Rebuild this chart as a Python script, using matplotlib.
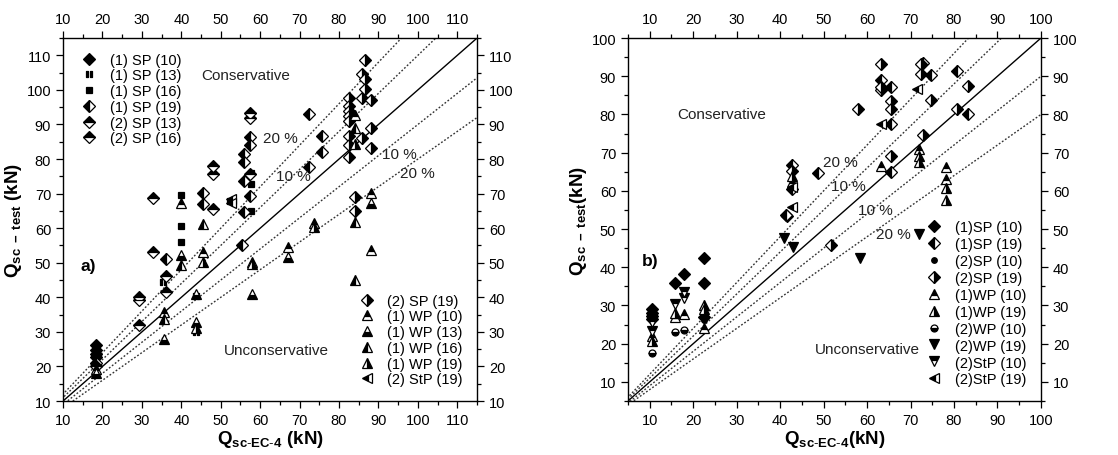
import matplotlib
matplotlib.use("Agg")
import matplotlib.pyplot as plt
import numpy as np
from matplotlib.path import Path
from matplotlib.ticker import MultipleLocator

plt.rcParams['font.family'] = ['Liberation Sans', 'DejaVu Sans']
plt.rcParams['mathtext.fontset'] = 'custom'
plt.rcParams['mathtext.rm'] = 'Liberation Sans'
plt.rcParams['mathtext.bf'] = 'Liberation Sans:bold'
plt.rcParams['mathtext.it'] = 'Liberation Sans:italic'

# ---------------- panel a) data : (Q_sc-EC-4, Q_sc-test) in kN ----------------
a_sp1_10_x = [18.4, 18.4, 18.4, 18.4]
a_sp1_10_y = [26.3, 24.8, 23.6, 22.6]
a_sp1_13_x = [35.3, 43.8, 43.8, 52.3]
a_sp1_13_y = [44.5, 40.3, 30.0, 68.0]
a_sp1_16_x = [40.0, 40.0, 40.0, 57.6, 57.6, 57.6]
a_sp1_16_y = [69.5, 60.5, 56.1, 76.1, 72.8, 64.9]
a_sp1_19_x = [18.4, 36.0, 45.4, 45.4, 55.9, 55.9, 55.9, 55.9, 55.5, 57.4, 57.4,
              57.4, 72.3, 72.5, 75.8, 75.8]
a_sp1_19_y = [21.0, 51.0, 70.3, 67.0, 81.4, 79.0, 73.5, 64.6, 55.1, 86.5, 84.1,
              69.4, 93.0, 77.8, 86.7, 81.9]
a_sp2_13_x = [29.3, 32.9, 36.0, 36.0, 57.4, 57.4, 57.4, 48.0]
a_sp2_13_y = [32.0, 53.0, 46.3, 41.5, 93.4, 91.8, 75.6, 75.6]
a_sp2_16_x = [32.9, 29.3, 29.3, 48.0, 48.0, 18.4]
a_sp2_16_y = [68.7, 40.0, 39.1, 78.0, 65.5, 20.2]
a_sp2_19_x = [82.5, 82.5, 82.5, 82.5, 82.5, 82.5, 82.5, 82.5, 84.0, 84.0, 85.9,
              85.9, 85.9, 86.6, 86.6, 86.6, 88.0, 88.0, 88.0]
a_sp2_19_y = [97.6, 95.4, 93.9, 92.5, 91.0, 86.7, 84.1, 80.5, 68.9, 65.1, 104.5,
              97.6, 86.2, 108.7, 103.1, 100.2, 97.1, 89.1, 83.3]
a_wp1_10_x = [18.4, 35.5, 40.0, 45.4, 57.9, 67.0, 73.6, 84.0, 88.0, 88.0]
a_wp1_10_y = [19.2, 35.7, 67.3, 53.0, 50.1, 54.5, 61.5, 92.7, 70.1, 53.8]
a_wp1_13_x = [18.4, 35.5, 40.0, 43.8, 43.8, 58.0, 67.0, 88.0]
a_wp1_13_y = [18.2, 27.8, 52.1, 41.0, 33.0, 41.0, 51.8, 67.3]
a_wp1_16_x = [35.5, 40.0, 45.4, 84.0, 84.0, 84.0]
a_wp1_16_y = [33.8, 49.2, 61.1, 89.1, 61.9, 45.0]
a_wp1_19_x = [43.8, 45.4, 73.6, 84.0, 57.9]
a_wp1_19_y = [31.0, 50.1, 60.2, 84.3, 49.5]
a_stp2_19_x = [52.5, 52.5]
a_stp2_19_y = [68.5, 67.3]

# ---------------- panel b) data ----------------
b_sp1_10_x = [10.5, 10.5, 10.5, 10.5, 15.8, 18.0, 22.5, 22.5, 22.5, 41.6]
b_sp1_10_y = [29.2, 28.0, 27.2, 26.4, 36.0, 38.2, 42.3, 36.0, 26.9, 53.5]
b_sp1_19_x = [41.3, 42.8, 42.8, 48.6, 63.3, 65.4, 65.4, 65.4, 72.8, 74.6, 80.6, 83.2]
b_sp1_19_y = [53.7, 66.9, 60.5, 64.7, 89.0, 87.2, 77.6, 64.9, 93.5, 90.4, 91.5, 80.2]
b_sp2_10_x = [22.5, 10.5]
b_sp2_10_y = [26.2, 26.8]
b_sp2_19_x = [58.0, 63.3, 63.3, 65.4, 65.4, 65.4, 72.3, 72.3, 74.6, 80.6, 83.2,
              51.6, 42.8, 63.3, 72.8]
b_sp2_19_y = [81.5, 93.1, 86.3, 83.4, 81.5, 69.1, 93.1, 90.7, 83.7, 81.3, 87.4,
              45.9, 65.3, 87.2, 74.5]
b_wp1_10_x = [10.5, 15.8, 18.0, 22.5, 42.8, 72.0, 78.2, 78.2, 63.3]
b_wp1_10_y = [22.1, 26.9, 27.7, 24.2, 62.3, 71.0, 66.2, 63.1, 66.6]
b_wp1_19_x = [10.5, 15.8, 22.5, 22.5, 42.8, 72.0, 72.0, 78.2, 78.2]
b_wp1_19_y = [20.8, 28.0, 30.1, 29.1, 64.0, 69.1, 67.5, 60.7, 57.5]
b_wp2_10_x = [10.5, 15.8, 18.0]
b_wp2_10_y = [17.5, 23.1, 23.5]
b_wp2_19_x = [41.0, 43.0, 58.4, 72.0]
b_wp2_19_y = [47.6, 45.2, 42.3, 48.7]
b_stp2_10_x = [10.5, 10.5, 15.8, 18.0, 18.0]
b_stp2_10_y = [25.6, 23.4, 30.4, 33.4, 32.0]
b_stp2_19_x = [42.8, 42.8, 63.3, 71.5]
b_stp2_19_y = [61.0, 55.7, 77.6, 86.7]

# deviation bands drawn around the 1:1 line
band_factors = [1.2, 1.1, 0.9, 0.8]

# two thin vertical bars used as a marker
_bars = Path([(-0.45, -0.5), (-0.15, -0.5), (-0.15, 0.5), (-0.45, 0.5), (-0.45, -0.5),
              (0.15, -0.5), (0.45, -0.5), (0.45, 0.5), (0.15, 0.5), (0.15, -0.5)],
             [Path.MOVETO, Path.LINETO, Path.LINETO, Path.LINETO, Path.CLOSEPOLY,
              Path.MOVETO, Path.LINETO, Path.LINETO, Path.LINETO, Path.CLOSEPOLY])

fig = plt.figure(figsize=(11.18, 4.56), dpi=100)
axa = fig.add_axes([0.0564, 0.1184, 0.3703, 0.796])
axb = fig.add_axes([0.5617, 0.1184, 0.3694, 0.796])


def style_axis(ax, lo, hi):
    ax.set_xlim(lo, hi)
    ax.set_ylim(lo, hi)
    ax.xaxis.set_major_locator(MultipleLocator(10))
    ax.yaxis.set_major_locator(MultipleLocator(10))
    ax.xaxis.set_minor_locator(MultipleLocator(5))
    ax.yaxis.set_minor_locator(MultipleLocator(5))
    ax.tick_params(which='both', direction='out', top=True, right=True,
                   labeltop=True, labelright=True, labelsize=10.5, width=0.9)
    ax.tick_params(which='major', length=5)
    ax.tick_params(which='minor', length=3)
    for s in ax.spines.values():
        s.set_linewidth(1.0)
    xs = np.array([0, hi])
    ax.plot(xs, xs, color='black', lw=1.0, zorder=2)
    for f in band_factors:
        ax.plot(xs, f * xs, color='#333333', lw=1.0, ls=(0, (1.3, 1.4)), zorder=2)


def draw(ax, x, y, marker, fill='full', ms=7.0, label=None):
    h, = ax.plot(x, y, ls='none', marker=marker, fillstyle=fill, ms=ms,
                 mfc='black', mec='black', mew=0.9, markerfacecoloralt='white',
                 label=label, zorder=3)
    return h


style_axis(axa, 10, 115)
style_axis(axb, 5, 100)

ha = [
    draw(axa, a_sp1_10_x, a_sp1_10_y, 'D', 'full', 6.5, '(1) SP (10)'),
    draw(axa, a_sp1_13_x, a_sp1_13_y, _bars, 'full', 4.5, '(1) SP (13)'),
    draw(axa, a_sp1_16_x, a_sp1_16_y, 's', 'full', 4.5, '(1) SP (16)'),
    draw(axa, a_sp1_19_x, a_sp1_19_y, 'D', 'left', 6.5, '(1) SP (19)'),
    draw(axa, a_sp2_13_x, a_sp2_13_y, 'D', 'top', 6.5, '(2) SP (13)'),
    draw(axa, a_sp2_16_x, a_sp2_16_y, 'D', 'top', 6.5, '(2) SP (16)'),
    draw(axa, a_sp2_19_x, a_sp2_19_y, 'D', 'right', 6.5, '(2) SP (19)'),
    draw(axa, a_wp1_10_x, a_wp1_10_y, '^', 'top', 7.5, '(1) WP (10)'),
    draw(axa, a_wp1_13_x, a_wp1_13_y, '^', 'bottom', 7.5, '(1) WP (13)'),
    draw(axa, a_wp1_16_x, a_wp1_16_y, '^', 'left', 7.5, '(1) WP (16)'),
    draw(axa, a_wp1_19_x, a_wp1_19_y, '^', 'right', 7.5, '(1) WP (19)'),
    draw(axa, a_stp2_19_x, a_stp2_19_y, '<', 'left', 7.5, '(2) StP (19)'),
]

leg_kw = dict(frameon=False, fontsize=10.5, handletextpad=0.6,
              borderaxespad=0.6, handlelength=1.6)
leg1 = axa.legend(handles=ha[:6], loc='upper left', labelspacing=0.12, **leg_kw)
axa.add_artist(leg1)
axa.legend(handles=ha[6:], loc='lower right', labelspacing=0.12, **leg_kw)

hb = [
    draw(axb, b_sp1_10_x, b_sp1_10_y, 'D', 'full', 6.5, '(1)SP (10)'),
    draw(axb, b_sp1_19_x, b_sp1_19_y, 'D', 'left', 6.5, '(1)SP (19)'),
    draw(axb, b_sp2_10_x, b_sp2_10_y, 'o', 'full', 4.0, '(2)SP (10)'),
    draw(axb, b_sp2_19_x, b_sp2_19_y, 'D', 'right', 6.5, '(2)SP (19)'),
    draw(axb, b_wp1_10_x, b_wp1_10_y, '^', 'top', 7.5, '(1)WP (10)'),
    draw(axb, b_wp1_19_x, b_wp1_19_y, '^', 'right', 7.5, '(1)WP (19)'),
    draw(axb, b_wp2_10_x, b_wp2_10_y, 'o', 'bottom', 5.0, '(2)WP (10)'),
    draw(axb, b_wp2_19_x, b_wp2_19_y, 'v', 'full', 7.5, '(2)WP (19)'),
    draw(axb, b_stp2_10_x, b_stp2_10_y, 'v', 'top', 7.5, '(2)StP (10)'),
    draw(axb, b_stp2_19_x, b_stp2_19_y, '<', 'left', 7.5, '(2)StP (19)'),
]
axb.legend(handles=hb, loc='lower right', labelspacing=0.2, **leg_kw)

# annotations
txt = dict(fontsize=11, color='#222222')
axa.text(56.2, 104.2, 'Conservative', ha='center', va='center', **txt)
axa.text(64.2, 24.9, 'Unconservative', ha='center', va='center', **txt)
axa.text(65.0, 86.2, '20 %', ha='center', va='center', **txt)
axa.text(68.3, 75.2, '10 %', ha='center', va='center', **txt)
axa.text(95.2, 81.4, '10 %', ha='center', va='center', **txt)
axa.text(99.8, 76.1, '20 %', ha='center', va='center', **txt)
axa.text(16.4, 49.2, 'a)', ha='center', va='center', fontsize=12.5, fontweight='bold')

axb.text(26.6, 80.0, 'Conservative', ha='center', va='center', **txt)
axb.text(60.0, 18.7, 'Unconservative', ha='center', va='center', **txt)
axb.text(53.9, 67.5, '20 %', ha='center', va='center', **txt)
axb.text(55.8, 61.4, '10 %', ha='center', va='center', **txt)
axb.text(61.9, 55.1, '10 %', ha='center', va='center', **txt)
axb.text(66.1, 48.7, '20 %', ha='center', va='center', **txt)
axb.text(10.2, 41.7, 'b)', ha='center', va='center', fontsize=12.5, fontweight='bold')

axa.set_ylabel(r'$\mathbf{Q}_{\mathbf{sc\ -\ test}}$' + ' (kN)', fontsize=13.5,
               fontweight='bold', labelpad=2)
axb.set_ylabel(r'$\mathbf{Q}_{\mathbf{sc\ -\ test}}$' + '(kN)', fontsize=13.5,
               fontweight='bold', labelpad=2)
axa.set_xlabel(r'$\mathbf{Q}_{\mathbf{sc\text{-}EC\text{-}4}}$' + ' (kN)', fontsize=13.5,
               fontweight='bold', labelpad=1)
axb.set_xlabel(r'$\mathbf{Q}_{\mathbf{sc\text{-}EC\text{-}4}}$' + '(kN)', fontsize=13.5,
               fontweight='bold', labelpad=1)

fig.savefig('out.png', dpi=100)
